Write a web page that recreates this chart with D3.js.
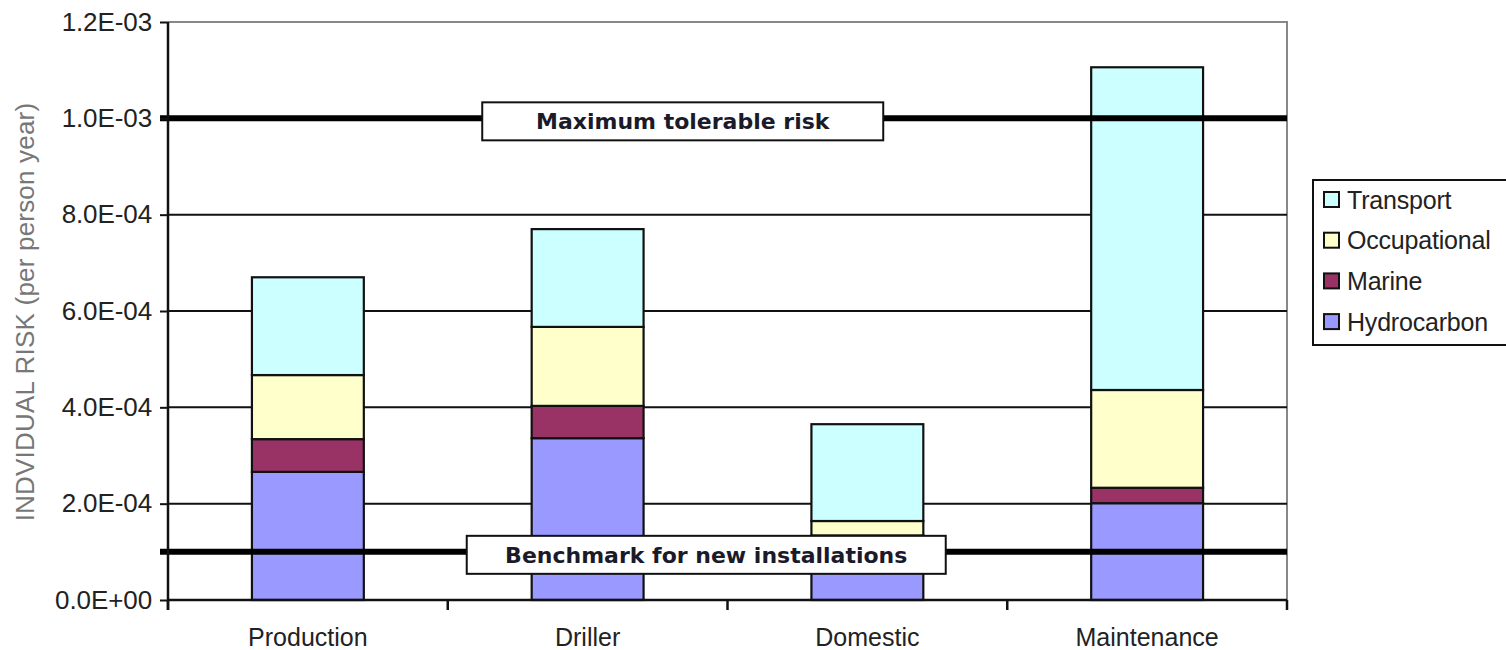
<!DOCTYPE html>
<html>
<head>
<meta charset="utf-8">
<script src="https://cdn.jsdelivr.net/npm/d3@7"></script>
<style>
  html, body { margin: 0; padding: 0; background: #fff; }
  svg { display: block; }
</style>
</head>
<body>
<svg id="chart" width="1506" height="650"></svg>
<script>
// Individual risk by worker group, stacked by hazard type (per person year)
const categories = ["Production", "Driller", "Domestic", "Maintenance"];
const seriesNames = ["Hydrocarbon", "Marine", "Occupational", "Transport"];
const hydrocarbon  = [2.66e-4, 3.36e-4, 1.30e-4, 2.01e-4];
const marine       = [0.68e-4, 0.67e-4, 0.04e-4, 0.32e-4];
const occupational = [1.33e-4, 1.64e-4, 0.30e-4, 2.03e-4];
const transport    = [2.03e-4, 2.03e-4, 2.01e-4, 6.70e-4];
const yTicks = [0, 2e-4, 4e-4, 6e-4, 8e-4, 1.0e-3, 1.2e-3];
const yTickLabels = ["0.0E+00", "2.0E-04", "4.0E-04", "6.0E-04", "8.0E-04", "1.0E-03", "1.2E-03"];
const thresholdValues = [1.0e-3, 1.0e-4];
const thresholdLabels = ["Maximum tolerable risk", "Benchmark for new installations"];
const legendOrder = ["Transport", "Occupational", "Marine", "Hydrocarbon"];
const colors = {
  Hydrocarbon: "#9999FF",
  Marine: "#993366",
  Occupational: "#FFFFCC",
  Transport: "#CCFFFF"
};

// label box placement (fraction of plot width for centre, box width in px)
const labelBoxes = [
  { pos: 0.46, width: 401 },
  { pos: 0.481, width: 479 }
];

const svg = d3.select("#chart");
const plot = { left: 168, right: 1287, top: 22, bottom: 600 };

const x = d3.scaleBand()
  .domain(categories)
  .range([plot.left, plot.right])
  .paddingInner(0.6)
  .paddingOuter(0.3);

const y = d3.scaleLinear()
  .domain([0, 1.2e-3])
  .range([plot.bottom, plot.top]);

const table = categories.map((c, i) => ({
  category: c,
  Hydrocarbon: hydrocarbon[i],
  Marine: marine[i],
  Occupational: occupational[i],
  Transport: transport[i]
}));
const stacked = d3.stack().keys(seriesNames)(table);

const font = "'Liberation Sans', Arial, sans-serif";

// plot frame (top and right edges)
svg.append("path")
  .attr("d", `M${plot.left},${plot.top}H${plot.right}V${plot.bottom}`)
  .attr("fill", "none")
  .attr("stroke", "#888")
  .attr("stroke-width", 2);

// horizontal gridlines
svg.append("g")
  .selectAll("line")
  .data(yTicks.filter(v => v > 0 && v < 1.2e-3))
  .join("line")
  .attr("x1", plot.left).attr("x2", plot.right)
  .attr("y1", d => y(d)).attr("y2", d => y(d))
  .attr("stroke", "#111")
  .attr("stroke-width", 2);

// stacked bars
svg.append("g")
  .selectAll("g")
  .data(stacked)
  .join("g")
  .attr("fill", d => colors[d.key])
  .selectAll("rect")
  .data(d => d)
  .join("rect")
  .attr("x", d => x(d.data.category))
  .attr("width", x.bandwidth())
  .attr("y", d => y(d[1]))
  .attr("height", d => y(d[0]) - y(d[1]))
  .attr("stroke", "#111")
  .attr("stroke-width", 2.2);

// threshold lines with labelled boxes
const th = svg.append("g");
thresholdValues.forEach(v => {
  th.append("line")
    .attr("x1", plot.left - 8).attr("x2", plot.right)
    .attr("y1", y(v)).attr("y2", y(v))
    .attr("stroke", "#000")
    .attr("stroke-width", 6);
});
thresholdValues.forEach((v, i) => {
  const box = labelBoxes[i];
  const cx = plot.left + box.pos * (plot.right - plot.left);
  const cy = y(v) + 3;
  const g = th.append("g");
  g.append("rect")
    .attr("x", cx - box.width / 2)
    .attr("y", cy - 19)
    .attr("width", box.width)
    .attr("height", 38)
    .attr("fill", "#fff")
    .attr("stroke", "#111")
    .attr("stroke-width", 2);
  g.append("text")
    .attr("x", cx).attr("y", cy)
    .attr("dy", "0.36em")
    .attr("text-anchor", "middle")
    .attr("font-family", "'DejaVu Sans', sans-serif")
    .attr("font-weight", "bold")
    .attr("font-size", 22)
    .attr("fill", "#1a1a2a")
    .text(thresholdLabels[i]);
});

// y axis
const yAxis = svg.append("g")
  .attr("transform", `translate(${plot.left},0)`)
  .call(d3.axisLeft(y).tickValues(yTicks)
    .tickFormat((d, i) => yTickLabels[i])
    .tickSize(8).tickSizeOuter(0));
yAxis.select(".domain").remove();
yAxis.append("line")
  .attr("x1", 0).attr("x2", 0)
  .attr("y1", plot.top).attr("y2", plot.bottom + 10)
  .attr("stroke", "#111").attr("stroke-width", 2.5);
yAxis.selectAll(".tick line").attr("stroke", "#111").attr("stroke-width", 2);
yAxis.selectAll(".tick text")
  .attr("font-family", font)
  .attr("font-size", 26)
  .attr("letter-spacing", -0.1)
  .attr("fill", "#222")
  .attr("x", -16);

// x axis
const xAxis = svg.append("g")
  .attr("transform", `translate(0,${plot.bottom})`);
xAxis.append("line")
  .attr("x1", plot.left).attr("x2", plot.right)
  .attr("stroke", "#111").attr("stroke-width", 2.5);
const step = x.step();
const boundaries = d3.range(categories.length + 1).map(i => plot.left + i * step);
xAxis.selectAll(".xtick")
  .data(boundaries)
  .join("line")
  .attr("class", "xtick")
  .attr("x1", d => d).attr("x2", d => d)
  .attr("y1", 0).attr("y2", 10)
  .attr("stroke", "#111").attr("stroke-width", 2.5);
xAxis.selectAll(".xlabel")
  .data(categories)
  .join("text")
  .attr("class", "xlabel")
  .attr("x", d => x(d) + x.bandwidth() / 2)
  .attr("y", 46)
  .attr("text-anchor", "middle")
  .attr("font-family", font)
  .attr("font-size", 25)
  .attr("letter-spacing", 0)
  .attr("fill", "#222")
  .text(d => d);

// y axis title
svg.append("text")
  .attr("transform", `translate(34,${(plot.top + plot.bottom) / 2 + 1}) rotate(-90)`)
  .attr("text-anchor", "middle")
  .attr("font-family", font)
  .attr("font-size", 26)
  .attr("letter-spacing", 0.2)
  .attr("fill", "#777")
  .text("INDVIDUAL RISK (per person year)");

// legend
const lg = svg.append("g").attr("transform", "translate(1313,180)");
lg.append("rect")
  .attr("x", 0).attr("y", 0)
  .attr("width", 200).attr("height", 165)
  .attr("fill", "#fff")
  .attr("stroke", "#111").attr("stroke-width", 2);
const items = lg.selectAll(".item")
  .data(legendOrder)
  .join("g")
  .attr("class", "item")
  .attr("transform", (d, i) => `translate(10,${20 + i * 40.7})`);
items.append("rect")
  .attr("x", 1).attr("y", -8)
  .attr("width", 15).attr("height", 15)
  .attr("fill", d => colors[d])
  .attr("stroke", "#111").attr("stroke-width", 2);
items.append("text")
  .attr("x", 24).attr("y", 0)
  .attr("dy", "0.35em")
  .attr("font-family", font)
  .attr("font-size", 25)
  .attr("letter-spacing", -0.2)
  .attr("fill", "#222")
  .text(d => d);
</script>
</body>
</html>
